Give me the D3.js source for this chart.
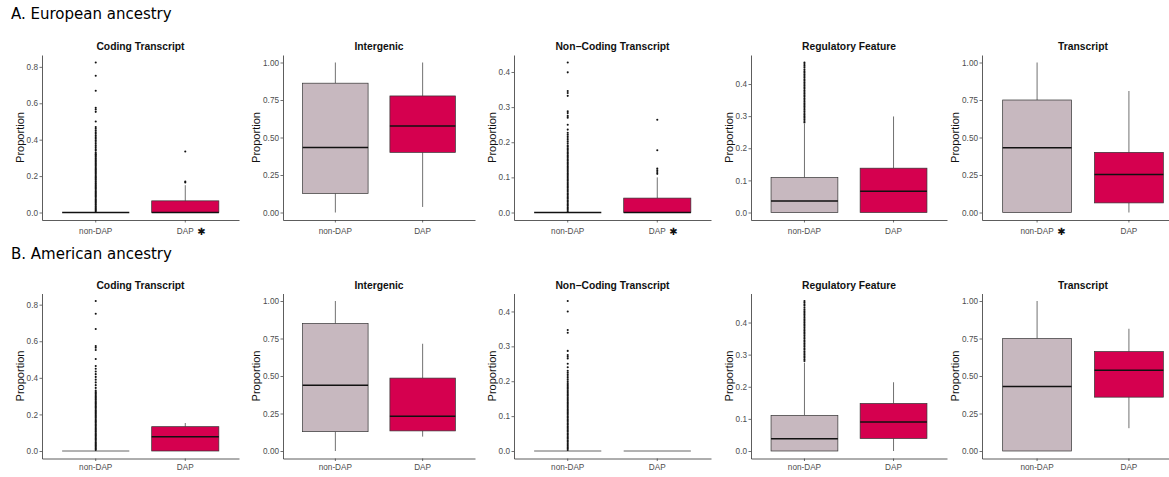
<!DOCTYPE html>
<html>
<head>
<meta charset="utf-8">
<script src="https://cdn.jsdelivr.net/npm/d3@7.9.0/dist/d3.min.js"></script>
<style>
  body { margin: 0; background: #fff; }
  svg { display: block; font-family: "Liberation Sans", Arial, sans-serif; }
</style>
</head>
<body>
<svg id="chart" width="1169" height="477"></svg>
<script>
const groups = ['non-DAP', 'DAP'];
const panelTitles = ['Coding Transcript', 'Intergenic', 'Non\u2212Coding Transcript', 'Regulatory Feature', 'Transcript'];
const rowTitles = ['A. European ancestry', 'B. American ancestry'];

// box stats per panel: [lower whisker, q1, median, q3, upper whisker]
const euNonDap = [[0, 0, 0, 0, 0], [0, 0.127, 0.434, 0.862, 1], [0, 0, 0, 0, 0], [0, 0, 0.036, 0.109, 0.276], [0, 0, 0.432, 0.75, 1]];
const euDap = [[0, 0, 0, 0.064, 0.15], [0.037, 0.401, 0.577, 0.777, 1], [0, 0, 0, 0.041, 0.1], [0, 0, 0.066, 0.138, 0.299], [0, 0.064, 0.254, 0.401, 0.81]];
const amNonDap = [[0, 0, 0, 0, 0], [0, 0.129, 0.439, 0.85, 1], [0, 0, 0, 0, 0], [0, 0, 0.038, 0.111, 0.275], [0, 0, 0.43, 0.75, 1]];
const amDap = [[0, 0, 0.078, 0.133, 0.153], [0.096, 0.134, 0.232, 0.486, 0.715], [0, 0, 0, 0, 0], [0, 0.039, 0.09, 0.148, 0.214], [0.152, 0.359, 0.539, 0.663, 0.815]];

// outliers
const euCodingNonDapOut = [0.006, 0.012, 0.018, 0.024, 0.03, 0.036, 0.042, 0.048, 0.055, 0.061, 0.067, 0.073, 0.08, 0.086, 0.092, 0.098,
  0.105, 0.111, 0.117, 0.123, 0.13, 0.136, 0.142, 0.148, 0.155, 0.161, 0.167, 0.173, 0.18, 0.186, 0.192, 0.198, 0.205, 0.211,
  0.217, 0.223, 0.23, 0.236, 0.242, 0.248, 0.255, 0.261, 0.267, 0.273, 0.28, 0.286, 0.292, 0.298, 0.305, 0.311, 0.317, 0.322,
  0.33, 0.34, 0.348, 0.359, 0.368, 0.377, 0.387, 0.396, 0.405, 0.414, 0.423, 0.432, 0.441, 0.45, 0.46, 0.469, 0.5, 0.553, 0.566,
  0.575, 0.669, 0.751, 0.824];
const euCodingDapOut = [0.165, 0.17, 0.335];
const euNoncodingNonDapOut = [0.003, 0.007, 0.011, 0.015, 0.019, 0.023, 0.027, 0.031, 0.035, 0.039, 0.043, 0.047, 0.051, 0.055,
  0.059, 0.063, 0.067, 0.071, 0.075, 0.079, 0.083, 0.087, 0.091, 0.095, 0.099, 0.103, 0.107, 0.111, 0.115, 0.119, 0.123, 0.127,
  0.131, 0.135, 0.139, 0.143, 0.147, 0.151, 0.155, 0.159, 0.163, 0.167, 0.171, 0.175, 0.179, 0.183, 0.187, 0.191, 0.197, 0.202,
  0.207, 0.212, 0.217, 0.222, 0.227, 0.236, 0.25, 0.27, 0.275, 0.283, 0.288, 0.332, 0.34, 0.346, 0.399, 0.427];
const euNoncodingDapOut = [0.11, 0.115, 0.12, 0.125, 0.177, 0.264];
const euRegNonDapOut = [0.28, 0.285, 0.29, 0.295, 0.3, 0.305, 0.31, 0.315, 0.32, 0.325, 0.33, 0.335, 0.34, 0.345, 0.35, 0.355,
  0.36, 0.365, 0.37, 0.375, 0.38, 0.385, 0.39, 0.395, 0.4, 0.405, 0.41, 0.415, 0.42, 0.425, 0.43, 0.435, 0.44, 0.446, 0.452,
  0.457, 0.462, 0.467];

const amCodingNonDapOut = [0.006, 0.012, 0.018, 0.024, 0.03, 0.036, 0.042, 0.048, 0.055, 0.061, 0.067, 0.073, 0.08, 0.086, 0.092, 0.098,
  0.105, 0.111, 0.117, 0.123, 0.13, 0.136, 0.142, 0.148, 0.155, 0.161, 0.167, 0.173, 0.18, 0.186, 0.192, 0.198, 0.205, 0.211,
  0.217, 0.223, 0.23, 0.236, 0.242, 0.248, 0.255, 0.261, 0.267, 0.273, 0.28, 0.286, 0.292, 0.298, 0.305, 0.311, 0.317, 0.322,
  0.33, 0.345, 0.36, 0.375, 0.39, 0.405, 0.42, 0.435, 0.45, 0.465, 0.503, 0.552, 0.565, 0.574, 0.667, 0.75, 0.82];
const amNoncodingNonDapOut = [0.003, 0.007, 0.011, 0.015, 0.019, 0.023, 0.027, 0.031, 0.035, 0.039, 0.043, 0.047, 0.051, 0.055,
  0.059, 0.063, 0.067, 0.071, 0.075, 0.079, 0.083, 0.087, 0.091, 0.095, 0.099, 0.103, 0.107, 0.111, 0.115, 0.119, 0.123, 0.127,
  0.131, 0.135, 0.139, 0.143, 0.147, 0.151, 0.155, 0.159, 0.163, 0.167, 0.171, 0.175, 0.179, 0.183, 0.187, 0.191, 0.195, 0.2,
  0.205, 0.21, 0.215, 0.22, 0.225, 0.23, 0.24, 0.25, 0.265, 0.27, 0.275, 0.287, 0.339, 0.347, 0.4, 0.43];
const amRegNonDapOut = [0.28, 0.285, 0.29, 0.295, 0.3, 0.305, 0.31, 0.315, 0.32, 0.325, 0.33, 0.335, 0.34, 0.345, 0.35, 0.355,
  0.36, 0.365, 0.37, 0.375, 0.38, 0.385, 0.39, 0.395, 0.4, 0.405, 0.41, 0.415, 0.42, 0.425, 0.43, 0.435, 0.44, 0.446, 0.452,
  0.457, 0.462, 0.467];

const euNonDapOut = [euCodingNonDapOut, [], euNoncodingNonDapOut, euRegNonDapOut, []];
const euDapOut = [euCodingDapOut, [], euNoncodingDapOut, [], []];
const amNonDapOut = [amCodingNonDapOut, [], amNoncodingNonDapOut, amRegNonDapOut, []];
const amDapOut = [[], [], [], [], []];

// y tick labels per panel
const yTicks = [[0, 0.2, 0.4, 0.6, 0.8], [0, 0.25, 0.5, 0.75, 1], [0, 0.1, 0.2, 0.3, 0.4], [0, 0.1, 0.2, 0.3, 0.4], [0, 0.25, 0.5, 0.75, 1]];
const yFormats = ['.1f', '.2f', '.1f', '.1f', '.2f'];

// significance star: index of the group label carrying "*", -1 = none
const euStars = [1, -1, 1, -1, 0];
const amStars = [-1, -1, -1, -1, -1];

const rows = [
  { title: rowTitles[0], stats: [euNonDap, euDap], out: [euNonDapOut, euDapOut], stars: euStars },
  { title: rowTitles[1], stats: [amNonDap, amDap], out: [amNonDapOut, amDapOut], stars: amStars }
];

const colors = d3.scaleOrdinal().domain(groups).range(['#c7b8bf', '#d5004f']);

// layout
const panelLeft = [42, 283, 514, 751, 982];
const panelRight = [239, 475, 711, 947, 1184];
const rowTop = [55, 293.5];
const rowBottom = [220, 458.5];
const rowTitleY = [19, 259];
const labelDy = [13.5, 11.5];

const svg = d3.select('#chart');
svg.append('rect').attr('width', 1169).attr('height', 477).attr('fill', '#fff');

rows.forEach((row, r) => {
  svg.append('text')
    .attr('x', 11).attr('y', rowTitleY[r])
    .attr('font-family', '"DejaVu Sans", sans-serif')
    .attr('font-size', 15)
    .text(row.title);

  panelTitles.forEach((pt, p) => {
    const top = rowTop[r], bottom = rowBottom[r];
    const left = panelLeft[p], right = panelRight[p];
    const g = svg.append('g');

    const x = d3.scaleBand().domain(groups).range([left, right]).paddingInner(0).paddingOuter(0.1);

    const allVals = [];
    groups.forEach((grp, k) => {
      allVals.push(...row.stats[k][p], ...row.out[k][p]);
    });
    const lo = d3.min(allVals), hi = d3.max(allVals);
    const pad = (hi - lo) * 0.05;
    const y = d3.scaleLinear().domain([lo - pad, hi + pad]).range([bottom, top]);

    // boxes
    groups.forEach((grp, k) => {
      const [wl, q1, med, q3, wh] = row.stats[k][p];
      const cx = x(grp) + x.bandwidth() / 2;
      const bw = x.bandwidth() * 0.75;
      const flat = q1 === q3;

      g.append('line').attr('x1', cx).attr('x2', cx).attr('y1', y(q3)).attr('y2', y(wh))
        .attr('stroke', '#333').attr('stroke-width', 0.7);
      g.append('line').attr('x1', cx).attr('x2', cx).attr('y1', y(q1)).attr('y2', y(wl))
        .attr('stroke', '#333').attr('stroke-width', 0.7);
      g.append('rect')
        .attr('x', cx - bw / 2).attr('width', bw)
        .attr('y', y(q3)).attr('height', Math.max(0, y(q1) - y(q3)))
        .attr('fill', colors(grp)).attr('stroke', '#333').attr('stroke-width', 0.7);
      g.append('line')
        .attr('x1', cx - bw / 2).attr('x2', cx + bw / 2).attr('y1', y(med)).attr('y2', y(med))
        .attr('stroke', flat && r === 1 ? '#555' : '#111')
        .attr('stroke-width', flat && r === 1 ? 0.9 : 1.5);

      g.selectAll(null).data(row.out[k][p]).join('circle')
        .attr('cx', cx).attr('cy', d => y(d)).attr('r', 1.05).attr('fill', '#111');
    });

    // y axis
    const yAxis = g.append('g').attr('transform', `translate(${left},0)`)
      .call(d3.axisLeft(y).tickValues(yTicks[p]).tickFormat(d3.format(yFormats[p])).tickSize(2.5).tickSizeOuter(0).tickPadding(1.5));
    yAxis.select('.domain').attr('stroke', '#333').attr('stroke-width', 0.8);
    yAxis.selectAll('.tick line').attr('stroke', '#333').attr('stroke-width', 0.7);
    yAxis.selectAll('.tick text').attr('fill', '#4d4d4d').attr('font-size', 8.2)
      .attr('font-family', '"Liberation Sans", Arial, sans-serif');

    // x axis
    const xAxis = g.append('g').attr('transform', `translate(0,${bottom})`)
      .call(d3.axisBottom(x).tickSize(2.5).tickSizeOuter(0).tickFormat(''));
    xAxis.select('.domain').attr('stroke', '#333').attr('stroke-width', 0.8);
    xAxis.selectAll('.tick line').attr('stroke', '#333').attr('stroke-width', 0.7);

    groups.forEach((grp, k) => {
      const cx = x(grp) + x.bandwidth() / 2;
      const t = g.append('text')
        .attr('x', cx).attr('y', bottom + labelDy[r])
        .attr('text-anchor', 'middle')
        .attr('fill', '#4d4d4d').attr('font-size', 8.2)
        .text(grp);
      if (row.stars[p] === k) {
        const w = t.node().getComputedTextLength();
        g.append('text')
          .attr('x', cx + w / 2 + 3.5).attr('y', bottom + labelDy[r] + 1.5)
          .attr('font-family', '"DejaVu Sans", sans-serif')
          .attr('font-size', 10).attr('fill', '#111')
          .text('\u2731');
      }
    });

    // y axis title
    let maxW = 0;
    yAxis.selectAll('.tick text').each(function () { maxW = Math.max(maxW, this.getComputedTextLength()); });
    const ax = left - 4 - maxW - 3;
    g.append('text')
      .attr('transform', `translate(${ax},${(top + bottom) / 2}) rotate(-90)`)
      .attr('text-anchor', 'middle')
      .attr('font-size', 11).attr('fill', '#111')
      .text('Proportion');

    // panel title
    g.append('text')
      .attr('x', (left + right) / 2).attr('y', top - 5)
      .attr('text-anchor', 'middle')
      .attr('font-size', 10.3).attr('font-weight', 'bold').attr('fill', '#111')
      .text(pt);
  });
});
</script>
</body>
</html>
